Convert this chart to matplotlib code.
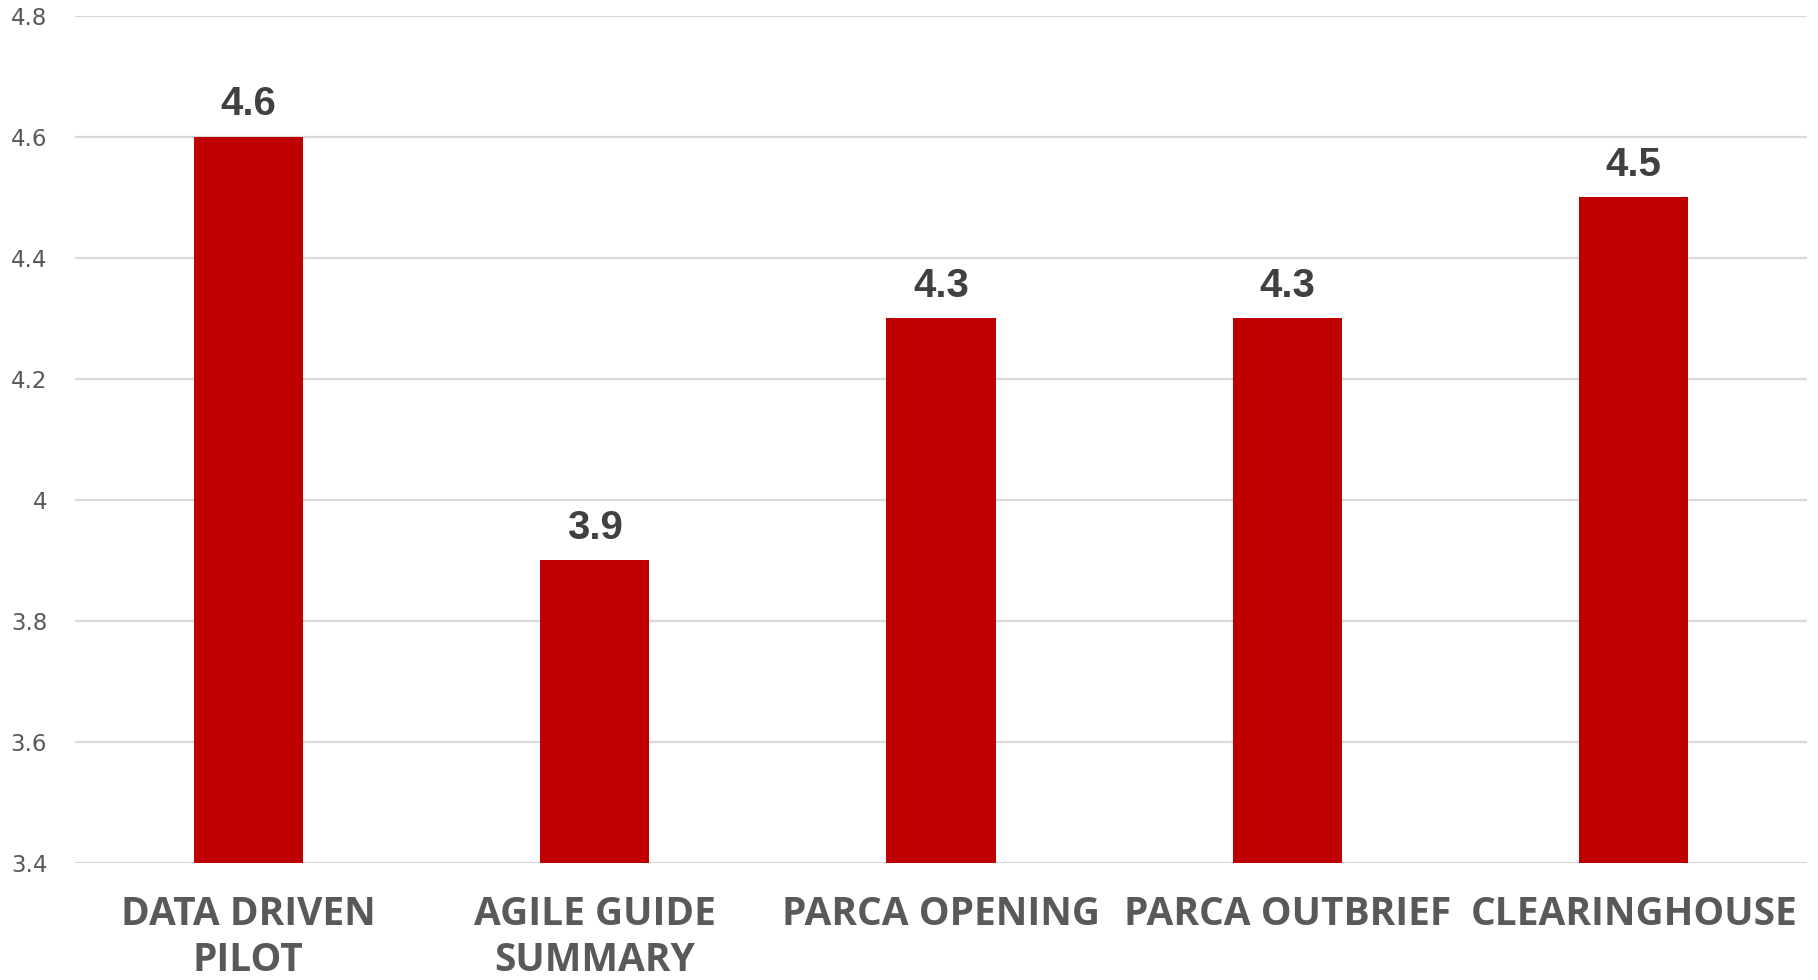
import matplotlib
matplotlib.use("Agg")
import matplotlib.pyplot as plt
from matplotlib import font_manager

categories = ["DATA DRIVEN\nPILOT", "AGILE GUIDE\nSUMMARY", "PARCA OPENING", "PARCA OUTBRIEF", "CLEARINGHOUSE"]
values = [4.6, 3.9, 4.3, 4.3, 4.5]
value_labels = ["4.6", "3.9", "4.3", "4.3", "4.5"]
yticks = [3.4, 3.6, 3.8, 4.0, 4.2, 4.4, 4.6, 4.8]
ytick_labels = ["3.4", "3.6", "3.8", "4", "4.2", "4.4", "4.6", "4.8"]

names = {f.name for f in font_manager.fontManager.ttflist}
cat_font = "Liberation Sans Narrow" if "Liberation Sans Narrow" in names else "Open Sans"
cat_size = 36.5 if cat_font == "Liberation Sans Narrow" else 28

fig = plt.figure(figsize=(18.18, 9.8), dpi=100)
ax = fig.add_axes([75/1818, 117/980, (1807-75)/1818, (863-16)/980])

x = list(range(len(categories)))
ax.bar(x, [v - 3.4 for v in values], bottom=3.4, width=0.315, color="#C00000", zorder=3)

for xi, v, lab in zip(x, values, value_labels):
    ax.annotate(lab, (xi, v), xytext=(0, 10), textcoords="offset points",
                ha="center", va="bottom", fontsize=29, fontweight="bold",
                color="#404040", family="Liberation Sans")

ax.set_xlim(-0.5, 4.5)
ax.set_ylim(3.4, 4.8)
ax.set_yticks(yticks)
ax.set_yticklabels(ytick_labels, fontsize=16.5, color="#595959")
ax.set_xticks(x)
ax.set_xticklabels(categories, fontsize=cat_size, fontweight="bold", color="#595959",
                   family=cat_font, linespacing=1.24, va="top")
ax.tick_params(axis="y", length=0, pad=20)
ax.tick_params(axis="x", length=0, pad=23)
for s in ax.spines.values():
    s.set_visible(False)
ax.yaxis.grid(True, color="#D9D9D9", linewidth=1.6, zorder=0)
ax.set_axisbelow(True)

fig.savefig("out.png", dpi=100, facecolor="white")
